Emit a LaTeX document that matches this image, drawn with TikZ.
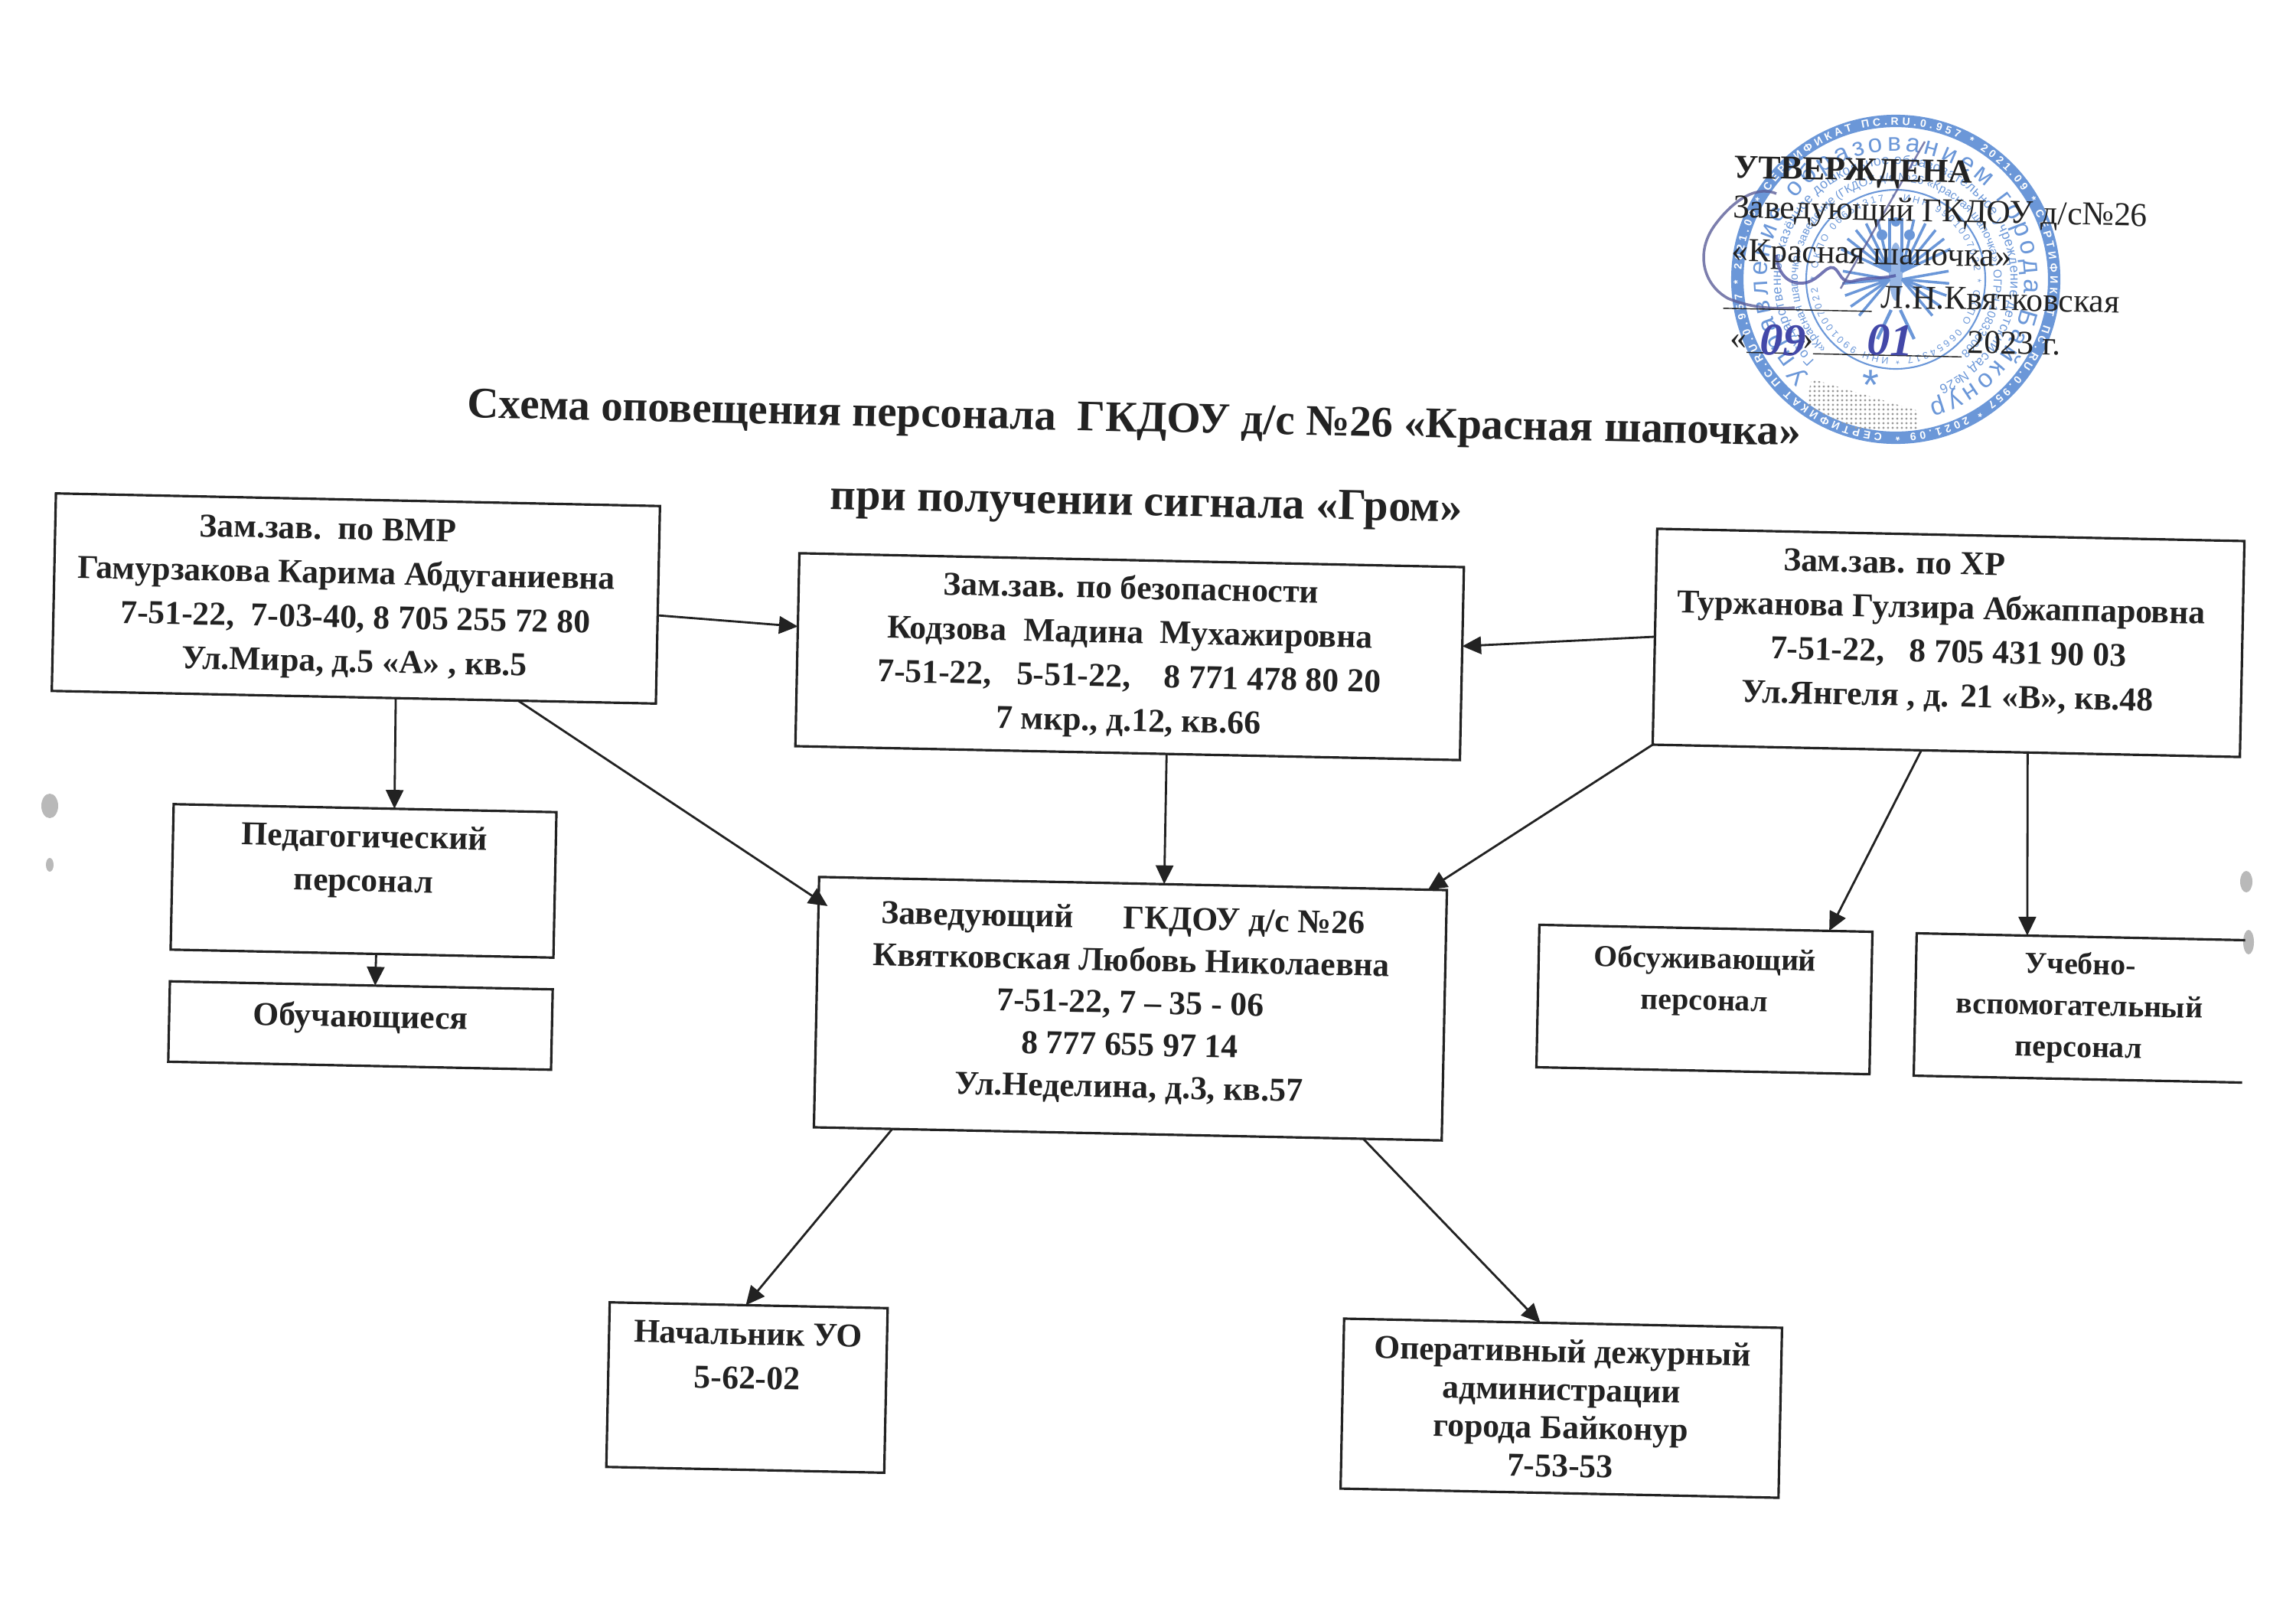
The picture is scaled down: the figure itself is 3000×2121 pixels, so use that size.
\documentclass[tikz,border=0pt]{standalone}
\usepackage{fontspec}
\setmainfont{Liberation Serif}
\newfontfamily\stampfont{Liberation Sans}
\usetikzlibrary{arrows.meta,decorations.text}
\definecolor{InkDark}{HTML}{222222}
\definecolor{StampBlue}{HTML}{6B97D8}
\definecolor{PenBlue}{HTML}{4348A8}
\tikzset{
  boxnode/.style={draw=InkDark,line width=0.9pt,rotate=-1.2,align=center,inner sep=0pt,outer sep=0pt,
    text=InkDark,font=\bfseries\fontsize{12.4}{16.4}\selectfont},
  smallbox/.style={boxnode,font=\bfseries\fontsize{11.3}{15.4}\selectfont},
  titlenode/.style={rotate=-1.2,inner sep=0pt,text=InkDark,font=\bfseries\fontsize{16.2}{20}\selectfont},
  handnode/.style={rotate=-1.2,inner sep=0pt,text=PenBlue,font=\bfseries\itshape\fontsize{17}{20}\selectfont},
  linkarrow/.style={draw=InkDark,line width=0.8pt,-{Triangle[length=7pt,width=6.5pt]}},
  ringtext/.style={decorate,decoration={text along path,text={#1},text align=fit to path}}
}
\begin{document}
\begin{tikzpicture}[x=0.01cm,y=-0.01cm]
  \useasboundingbox (0,0) rectangle (3000,2121);

  % Scan specks
  \foreach \px/\py/\rx/\ry in {65/1053/11/16,65/1130/5/9,2935/1152/8/14,2938/1231/7/16}
    \fill[gray!55] (\px,\py) ellipse[x radius=\rx,y radius=\ry];

  % Stamp
  \begin{scope}[shift={(2477,365)},x=0.01cm,y=0.01cm]
    \draw[StampBlue,line width=4.6pt] (0,0) circle[radius=207];
    \path[ringtext={|\stampfont\bfseries\fontsize{4}{5}\selectfont\color{white}|СЕРТИФИКАТ ПС.RU.0.957 * 2021.09 * СЕРТИФИКАТ ПС.RU.0.957 * 2021.09 * СЕРТИФИКАТ ПС.RU.0.957 * 2021.09 * }] (0,0) ++(265:202) arc[start angle=265,end angle=-90,radius=202];
    \path[ringtext={|\stampfont\color{StampBlue}\fontsize{9.5}{11}\selectfont|Управление образованием города Байконур}] (0,0) ++(228:168) arc[start angle=228,end angle=-75,radius=168];
    \path[ringtext={|\stampfont\color{StampBlue}\fontsize{5}{6}\selectfont|Государственное казённое дошкольное образовательное учреждение детский сад №26}] (0,0) ++(225:150) arc[start angle=225,end angle=-68,radius=150];
    \path[ringtext={|\stampfont\color{StampBlue}\fontsize{4.3}{5}\selectfont|«Красная шапочка» заведение (ГКДОУ д/с №26 «Красная шапочка») ОГРН 1083300682}] (0,0) ++(225:128) arc[start angle=225,end angle=-50,radius=128];
    \draw[StampBlue,line width=0.6pt] (0,0) circle[radius=117];
    \path[ringtext={|\stampfont\color{StampBlue}\fontsize{3.6}{4}\selectfont|ИНН 9901007022 * ОКПО 06654317 * ИНН 9901007022 * ОКПО 06654317 * }] (0,0) ++(265:103) arc[start angle=265,end angle=-90,radius=103];
    \node[text=StampBlue,font=\stampfont\fontsize{16}{18}\selectfont] (stampstar) at (-33,-138) {*};
    % Eagle
    \foreach \sx in {1,-1} {
      \begin{scope}[xscale=\sx]
        \foreach \ang in {25,38,...,90}
          \draw[StampBlue,line width=1pt] (8,10) -- ++(\ang:70);
        \foreach \ang in {-50,-35,...,10}
          \draw[StampBlue,line width=1pt] (8,0) -- ++(\ang:62);
        \fill[StampBlue] (18,58) circle[radius=7];
        \draw[StampBlue,line width=1.2pt] (6,-40) -- (24,-78);
      \end{scope}
    }
    \fill[StampBlue] (0,75) circle[radius=6];
    \fill[StampBlue,opacity=0.7] (0,10) ellipse[x radius=9,y radius=38];
    % Dotted patch
    \begin{scope}
      \clip (-110,-130) -- (30,-172) -- (30,-198) -- (-55,-195) -- (-118,-165) -- cycle;
      \foreach \i in {0,...,25} \foreach \j in {0,...,12}
        \fill[gray!80] (-118+6*\i,-200+6*\j) circle[radius=1.7];
    \end{scope}
  \end{scope}

  % Signature
  \draw[PenBlue!60!gray,line width=1pt,opacity=0.8] (2321,253) .. controls (2290,240) and (2258,270) .. (2240,295)
    .. controls (2215,330) and (2225,372) .. (2258,390) .. controls (2290,403) and (2320,404) .. (2345,402);
  \draw[PenBlue!80!gray,line width=1.1pt,opacity=0.8] (2321,333) .. controls (2322,350) and (2330,368) .. (2350,370)
    .. controls (2375,372) and (2385,345) .. (2396,350) .. controls (2405,355) and (2405,372) .. (2423,367)
    .. controls (2440,362) and (2455,365) .. (2477,360);
  \draw[PenBlue!60!gray,line width=0.7pt,opacity=0.8] (2515,185) -- (2405,377);

  % Approval block
  \node[anchor=north west,rotate=-1.2,inner sep=0pt,align=left,text=InkDark,font=\fontsize{12.4}{16.2}\selectfont] (approval) at (2265,203)
    {\textbf{УТВЕРЖДЕНА}\\[-1.5pt]
     Заведующий ГКДОУ д/с№26\\
     «Красная шапочка»\\
     \hspace*{-0.1cm}\underline{\hspace{1.94cm}}\hspace{0.12cm}Л.Н.Квятковская\\
     «\underline{\hspace{0.65cm}}»\underline{\hspace{1.94cm}}\,2023 г.};
  \node[handnode] (dayhand) at (2330,445) {09};
  \node[handnode] (monthhand) at (2470,445) {01};

  % Title
  \node[titlenode] (title) at (1482,551) {Схема оповещения персонала\ \ ГКДОУ д/с №26 «Красная шапочка»};
  \node[titlenode,font=\bfseries\fontsize{16.5}{20}\selectfont] (subtitle) at (1498,661) {при получении сигнала «Гром»};

  % Boxes
  \node[boxnode,minimum width=7.89cm,minimum height=2.58cm] (vmr) at (465,782)
    {Зам.зав.\ \ по ВМР\hspace*{0.76cm}\\ \mbox{Гамурзакова Карима Абдуганиевна\hspace{0.26cm}}\\ 7-51-22,\ \ 7-03-40, 8 705 255 72 80\\ Ул.Мира, д.5 «А» , кв.5};
  \node[boxnode,minimum width=8.68cm,minimum height=2.52cm] (bez) at (1476,858)
    {Зам.зав. по безопасности\\ Кодзова\ \ Мадина\ \ Мухажировна\\ 7-51-22,\ \ \ 5-51-22,\ \ \ \ 8 771 478 80 20\\ 7 мкр., д.12, кв.66};
  \node[boxnode,minimum width=7.67cm,minimum height=2.82cm,text depth=0.35cm] (hr) at (2546,840)
    {Зам.зав. по ХР\hspace*{1.46cm}\\ \mbox{Туржанова Гулзира Абжаппаровна\hspace{0.2cm}}\\ 7-51-22,\ \ \ 8 705 431 90 03\\ Ул.Янгеля , д. 21 «В», кв.48};
  \node[boxnode,minimum width=5cm,minimum height=1.9cm,text depth=0.6cm] (ped) at (475,1151)
    {Педагогический\\ персонал};
  \node[boxnode,minimum width=5cm,minimum height=1.05cm,text depth=0.27cm] (obuch) at (471,1340)
    {Обучающиеся};
  \node[boxnode,minimum width=8.2cm,minimum height=3.27cm,text depth=0.18cm,font=\bfseries\fontsize{12.4}{15.7}\selectfont] (zav) at (1477,1318)
    {Заведующий\ \ \ \ \ \ ГКДОУ д/с №26\hspace*{0.24cm}\\ Квятковская Любовь Николаевна\\ 7-51-22, 7 – 35 - 06\\ 8 777 655 97 14\\ Ул.Неделина, д.3, кв.57};
  \node[smallbox,minimum width=4.35cm,minimum height=1.86cm,text depth=0.55cm] (obsl) at (2227,1306)
    {Обсуживающий\\ персонал};
  \node[smallbox,draw=none,minimum width=4.29cm,minimum height=1.86cm] (ucheb) at (2717,1317)
    {Учебно-\\ вспомогательный\\ персонал};
  \node[boxnode,minimum width=3.63cm,minimum height=2.15cm,text depth=0.83cm] (nach) at (976,1813)
    {Начальник УО\\ 5-62-02};
  \node[boxnode,minimum width=5.72cm,minimum height=2.22cm,font=\bfseries\fontsize{12.4}{14.2}\selectfont] (oper) at (2040,1840)
    {Оперативный дежурный\\ администрации\\ города Байконур\\ 7-53-53};

  % Right side of this box is missing
  \draw[draw=InkDark,line width=0.9pt] (ucheb.north east) -- (ucheb.north west) -- (ucheb.south west) -- (ucheb.south east);

  % Arrows
  \draw[linkarrow] (vmr.-2.13) -- (bez.176.58);
  \draw[linkarrow] (vmr.-67.4) -- (ped.68.5);
  \draw[linkarrow,shorten >=-4pt] (vmr.-31.34) -- (zav.162.19);
  \draw[linkarrow] (bez.-68.6) -- (zav.76.57);
  \draw[linkarrow] (hr.180.16) -- (bez.3.3);
  \draw[linkarrow] (hr.south west) -- (zav.23.56);
  \draw[linkarrow] (hr.-103) -- (obsl.30.03);
  \draw[linkarrow] (hr.-53.16) -- (ucheb.127.98);
  \draw[linkarrow] (ped.-79.9) -- (obuch.71.4);
  \draw[linkarrow] (zav.-152.2) -- (nach.92.25);
  \draw[linkarrow] (zav.-28.4) -- (oper.105.6);
\end{tikzpicture}
\end{document}
